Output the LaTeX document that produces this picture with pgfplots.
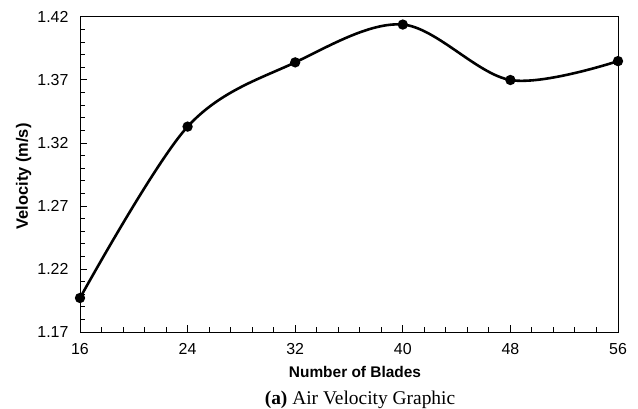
\documentclass[border=0pt]{standalone}
\usepackage{fontspec}
\setmainfont{Liberation Sans}
\newfontfamily\timesfont{Liberation Serif}
\usepackage{pgfplots}
\pgfplotsset{compat=1.18}
\begin{document}
\begin{tikzpicture}
\begin{axis}[
  scale only axis,
  width=538bp, height=315bp,
  xmin=16, xmax=56, ymin=1.17, ymax=1.42,
  xtick={16,24,32,40,48,56},
  ytick={1.17,1.22,1.27,1.32,1.37,1.42},
  /pgf/number format/assume math mode=true,
  yticklabel={\pgfmathprintnumber[fixed, precision=2, fixed zerofill]{\tick}},
  xticklabel={\pgfmathprintnumber{\tick}},
  minor x tick num=4,
  minor y tick num=4,
  tick align=inside,
  major tick length=7bp,
  minor tick length=5bp,
  tick style={black, line width=1pt},
  xtick pos=bottom, ytick pos=left,
  axis line style={line width=1pt},
  xticklabel style={font=\fontsize{16}{18}\selectfont, yshift=-8bp},
  yticklabel style={font=\fontsize{16}{18}\selectfont, xshift=-8bp},
  xlabel={Number of Blades},
  xlabel style={font=\bfseries\fontsize{15.5}{18}\selectfont, at={(axis description cs:0.5,0)}, anchor=base, yshift=-45bp, xshift=6bp},
  clip=false,
]
\addplot[black, line width=2.6pt, smooth, tension=0.55, mark=*, mark size=3.8pt, mark options={solid, fill=black}]
  coordinates {(16,1.197) (24,1.333) (32,1.384) (40,1.414) (48,1.370) (56,1.385)};
\end{axis}
\node[rotate=90, anchor=base, font=\bfseries\fontsize{16.5}{18}\selectfont] at ([shift={(-52bp,-2bp)}]current axis.west) {Velocity (m/s)};
\node[anchor=base, font=\timesfont\fontsize{19.5}{22}\selectfont] at ([shift={(11bp,-72bp)}]current axis.south) {\textbf{(a)} Air Velocity Graphic};
\pgfresetboundingbox
\path ([shift={(-80bp,-77bp)}]current axis.south west) rectangle ([shift={(20bp,17bp)}]current axis.north east);
\end{tikzpicture}
\end{document}
